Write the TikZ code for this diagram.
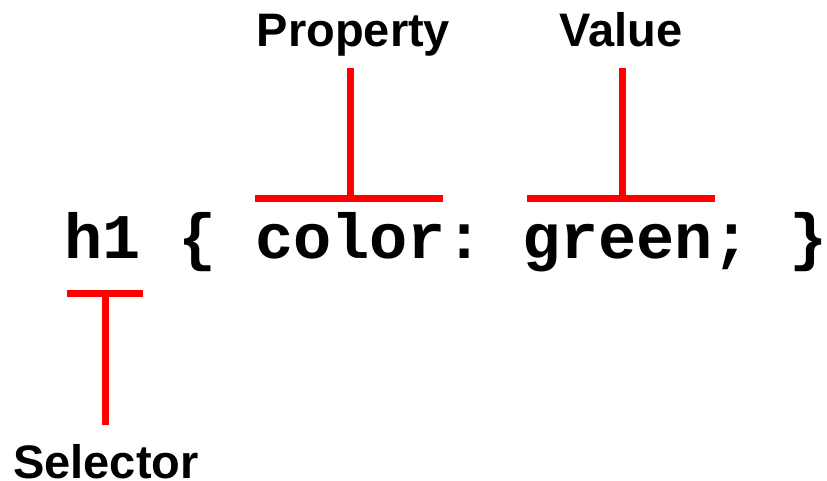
\documentclass[tikz,border=0pt]{standalone}
\usepackage{fontspec}
\setmainfont{Liberation Sans}
\setmonofont{Liberation Mono}
\begin{document}
\begin{tikzpicture}[x=1pt,y=1pt,
  label/.style={inner sep=0pt,font=\fontsize{47}{47}\selectfont\bfseries},
  code/.style={inner sep=0pt,font=\fontsize{63.6}{63.6}\selectfont\ttfamily\bfseries},
  bracket/.style={draw=red,line width=7pt,line cap=butt}]
\useasboundingbox (0,0) rectangle (827,480);
% the CSS rule
\node[code,anchor=base west] (rule) at (64,222) {h1 \{ color: green; \}};
% labels
\node[label,anchor=base] (prop) at (353.5,433) {Property};
\node[label,anchor=base] (val) at (621,433) {Value};
\node[label,anchor=base west] (sel) at (13,2) {Selector};
% bracket end points
\coordinate (propTop) at (350,412);
\coordinate (propMid) at (350,281);
\coordinate (propL) at (255,281);
\coordinate (propR) at (443,281);
\coordinate (valTop) at (622,412);
\coordinate (valMid) at (622,281);
\coordinate (valL) at (527,281);
\coordinate (valR) at (715,281);
\coordinate (selBot) at (105,55);
\coordinate (selMid) at (105,187);
\coordinate (selL) at (67,187);
\coordinate (selR) at (143,187);
% brackets
\draw[bracket] (propL) -- (propR);
\draw[bracket] (propTop) -- (propMid);
\draw[bracket] (valL) -- (valR);
\draw[bracket] (valTop) -- (valMid);
\draw[bracket] (selL) -- (selR);
\draw[bracket] (selMid) -- (selBot);
\end{tikzpicture}
\end{document}
